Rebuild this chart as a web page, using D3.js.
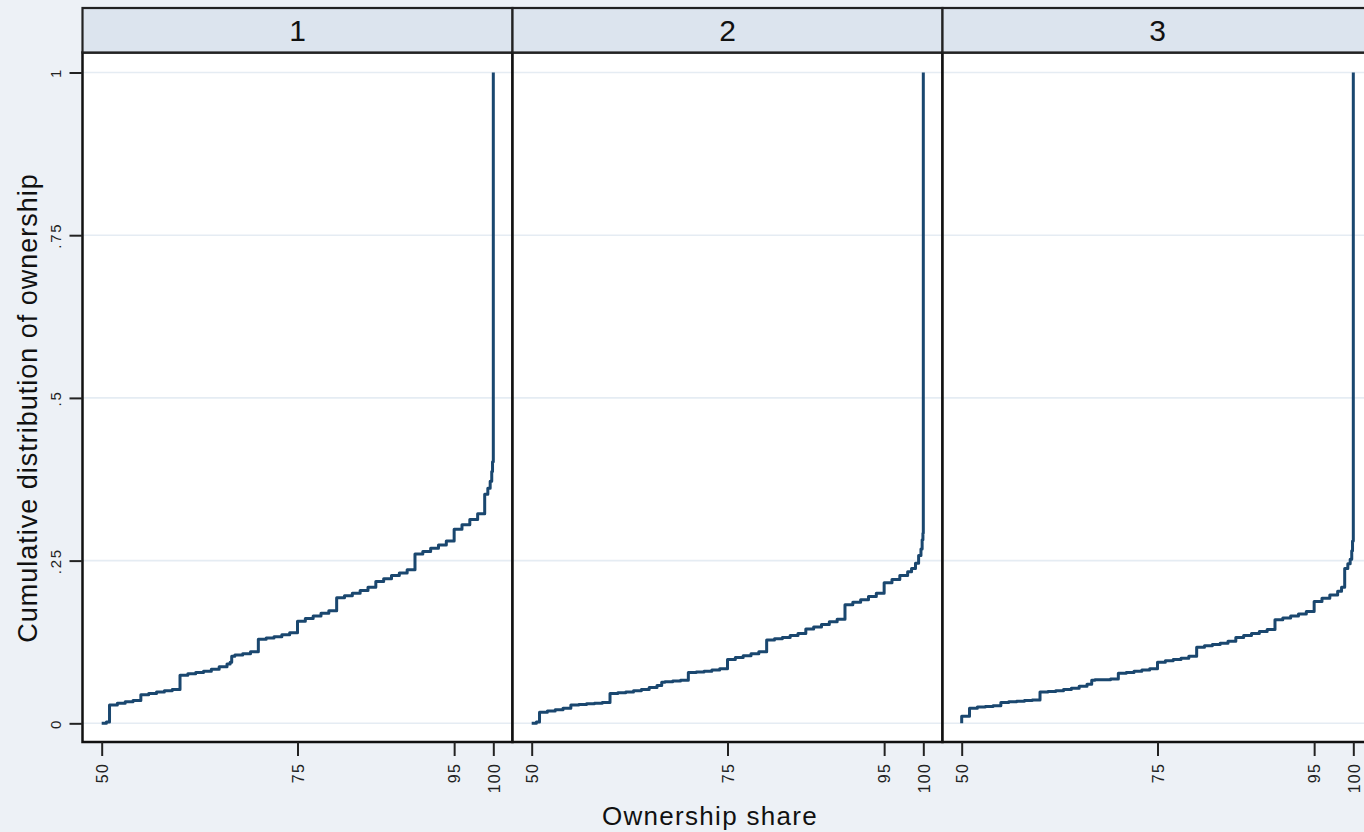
<!DOCTYPE html>
<html>
<head>
<meta charset="utf-8">
<script src="https://cdn.jsdelivr.net/npm/d3@7"></script>
<style>
  body { margin: 0; background: #edf1f6; }
  svg { display: block; font-family: "Liberation Sans", Arial, sans-serif; }
</style>
</head>
<body>
<div id="chart"></div>
<script>
// panel labels and tick values
var panels = ["1", "2", "3"];
var xTicks = [50, 75, 95, 100];
var yTicks = [0, 0.25, 0.5, 0.75, 1];
var yTickLabels = ["0", ".25", ".5", ".75", "1"];

// cumulative distribution (ownership share, cdf)
var share1 = [50, 50.6, 51, 52, 53, 54, 55, 56, 57, 58, 59, 60, 61, 62, 63, 64, 65, 66, 66.4, 66.6, 67, 68, 69, 70, 71, 72, 73, 74, 75, 76, 77, 78, 79, 80, 81, 82, 83, 84, 85, 86, 87, 88, 89, 90, 91, 92, 93, 94, 95, 96, 97, 98, 98.9, 99.3, 99.6, 99.8, 99.9, 100];
var cdf1 = [0, 0.002, 0.028, 0.031, 0.033, 0.035, 0.044, 0.046, 0.048, 0.050, 0.052, 0.074, 0.076, 0.078, 0.080, 0.083, 0.087, 0.091, 0.094, 0.103, 0.105, 0.107, 0.110, 0.129, 0.131, 0.133, 0.136, 0.139, 0.157, 0.161, 0.165, 0.169, 0.173, 0.193, 0.196, 0.200, 0.204, 0.209, 0.218, 0.222, 0.227, 0.231, 0.236, 0.260, 0.264, 0.269, 0.274, 0.280, 0.298, 0.305, 0.313, 0.322, 0.352, 0.361, 0.372, 0.387, 0.402, 1];

var share2 = [50, 50.6, 51, 52, 53, 54, 55, 56, 57, 58, 59, 60, 61, 62, 63, 64, 65, 66, 66.6, 67, 68, 69, 70, 71, 72, 73, 74, 75, 76, 77, 78, 79, 80, 81, 82, 83, 84, 85, 86, 87, 88, 89, 90, 91, 92, 93, 94, 95, 96, 97, 98, 98.5, 99, 99.4, 99.7, 99.85, 99.95, 100];
var cdf2 = [0, 0.002, 0.017, 0.019, 0.021, 0.023, 0.028, 0.029, 0.030, 0.031, 0.032, 0.046, 0.047, 0.048, 0.050, 0.052, 0.055, 0.058, 0.063, 0.064, 0.065, 0.066, 0.078, 0.079, 0.080, 0.082, 0.084, 0.098, 0.101, 0.104, 0.107, 0.110, 0.128, 0.130, 0.132, 0.135, 0.138, 0.145, 0.148, 0.152, 0.156, 0.160, 0.182, 0.186, 0.190, 0.195, 0.200, 0.216, 0.221, 0.227, 0.233, 0.238, 0.246, 0.258, 0.268, 0.282, 0.292, 1];

var share3 = [50, 50, 51, 52, 53, 54, 55, 56, 57, 58, 59, 60, 61, 62, 63, 64, 65, 66, 66.6, 67, 68, 69, 70, 71, 72, 73, 74, 75, 76, 77, 78, 79, 80, 81, 82, 83, 84, 85, 86, 87, 88, 89, 90, 91, 92, 93, 94, 95, 96, 97, 98, 98.5, 98.9, 99.3, 99.6, 99.8, 99.9, 100];
var cdf3 = [0, 0.011, 0.023, 0.025, 0.026, 0.027, 0.032, 0.033, 0.034, 0.035, 0.036, 0.048, 0.049, 0.050, 0.052, 0.054, 0.057, 0.060, 0.066, 0.067, 0.067, 0.068, 0.077, 0.078, 0.080, 0.082, 0.084, 0.094, 0.096, 0.098, 0.100, 0.103, 0.117, 0.119, 0.121, 0.123, 0.126, 0.132, 0.135, 0.138, 0.141, 0.144, 0.159, 0.162, 0.165, 0.168, 0.172, 0.187, 0.192, 0.197, 0.203, 0.209, 0.238, 0.245, 0.252, 0.265, 0.280, 1];

var shares = [share1, share2, share3];
var cdfs = [cdf1, cdf2, cdf3];

var W = 1364, H = 832;
var left = 82.5, panelW = 430;
var stripTop = 8, plotTop = 52.5, plotBottom = 742;

var svg = d3.select("#chart").append("svg")
    .attr("width", W)
    .attr("height", H);

svg.append("rect")
    .attr("width", W).attr("height", H)
    .attr("fill", "#edf1f6");

var x = d3.scaleLinear().domain([47.55, 102.45]).range([0, panelW]);
var y = d3.scaleLinear().domain([-0.0287, 1.0307]).range([plotBottom, plotTop]);

var line = d3.line()
    .x(function(d) { return x(d[0]); })
    .y(function(d) { return y(d[1]); })
    .curve(d3.curveStepAfter);

panels.forEach(function(p, i) {
    var g = svg.append("g").attr("transform", "translate(" + (left + i * panelW) + ",0)");

    // plot region
    g.append("rect")
        .attr("x", 0).attr("y", plotTop)
        .attr("width", panelW).attr("height", plotBottom - plotTop)
        .attr("fill", "white");

    // grid
    g.selectAll("line.grid")
        .data(yTicks)
        .enter().append("line")
        .attr("class", "grid")
        .attr("x1", 0).attr("x2", panelW)
        .attr("y1", function(d) { return y(d); })
        .attr("y2", function(d) { return y(d); })
        .attr("stroke", "#e5ecf3")
        .attr("stroke-width", 1.6);

    // ecdf line
    var pts = shares[i].map(function(s, k) { return [s, cdfs[i][k]]; });
    g.append("path")
        .datum(pts)
        .attr("d", line)
        .attr("fill", "none")
        .attr("stroke", "#1a476f")
        .attr("stroke-width", 3)
        .attr("stroke-linejoin", "round");

    // border
    g.append("rect")
        .attr("x", 0).attr("y", plotTop)
        .attr("width", panelW).attr("height", plotBottom - plotTop)
        .attr("fill", "none")
        .attr("stroke", "#111")
        .attr("stroke-width", 2.5);

    // strip
    g.append("rect")
        .attr("x", 0).attr("y", stripTop)
        .attr("width", panelW).attr("height", plotTop - stripTop)
        .attr("fill", "#dce4ee")
        .attr("stroke", "#222")
        .attr("stroke-width", 2.2);
    g.append("text")
        .text(p)
        .attr("x", panelW / 2)
        .attr("y", 41)
        .attr("text-anchor", "middle")
        .attr("font-size", "30px")
        .attr("fill", "#111");

    // x axis
    var xa = g.append("g")
        .attr("transform", "translate(0," + plotBottom + ")")
        .call(d3.axisBottom(x).tickValues(xTicks).tickSize(14).tickFormat(d3.format("d")));
    xa.select(".domain").remove();
    xa.selectAll(".tick line").attr("stroke", "#222").attr("stroke-width", 2);
    xa.selectAll(".tick text")
        .attr("transform", "rotate(-90)")
        .attr("text-anchor", "end")
        .attr("x", -21)
        .attr("y", 0)
        .attr("dy", "0.36em")
        .attr("font-size", "16px")
        .attr("letter-spacing", "1.2px")
        .attr("fill", "#222");
});

// y axis on first panel
var ya = svg.append("g")
    .attr("transform", "translate(" + left + ",0)")
    .call(d3.axisLeft(y).tickValues(yTicks).tickSize(13)
        .tickFormat(function(d, i) { return yTickLabels[i]; }));
ya.select(".domain").remove();
ya.selectAll(".tick line").attr("stroke", "#222").attr("stroke-width", 2);
ya.selectAll(".tick text")
    .attr("transform", "rotate(-90)")
    .attr("text-anchor", "middle")
    .attr("x", 0)
    .attr("y", -22)
    .attr("dy", 0)
    .attr("font-size", "15px")
    .attr("letter-spacing", "1.8px")
    .attr("fill", "#222");

// axis titles
svg.append("text")
    .text("Ownership share")
    .attr("x", 710)
    .attr("y", 825)
    .attr("text-anchor", "middle")
    .attr("font-size", "26px")
    .attr("letter-spacing", "1.3px")
    .attr("fill", "#111");

svg.append("text")
    .text("Cumulative distribution of ownership")
    .attr("transform", "translate(37,408) rotate(-90)")
    .attr("text-anchor", "middle")
    .attr("font-size", "27px")
    .attr("letter-spacing", "1px")
    .attr("fill", "#111");
</script>
</body>
</html>
